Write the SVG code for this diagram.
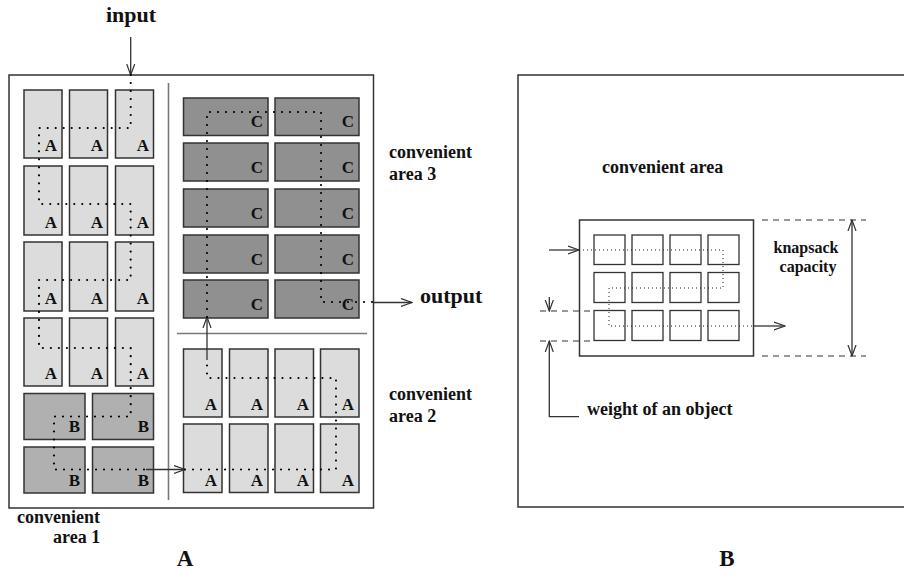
<svg xmlns="http://www.w3.org/2000/svg" width="904" height="574" viewBox="0 0 904 574">
<defs>
<marker id="v" viewBox="0 0 12 10" refX="11" refY="5" markerWidth="12" markerHeight="10" markerUnits="userSpaceOnUse" orient="auto-start-reverse">
<path d="M0,1 L11,5 L0,9" fill="none" stroke="#333" stroke-width="1.2"/>
</marker>
<style>
.t{font-family:"Liberation Serif","Times New Roman",serif;font-weight:bold;fill:#111}
.frame{fill:none;stroke:#333;stroke-width:1.5}
.ca{fill:#dcdcdc;stroke:#333;stroke-width:1.5}
.cb{fill:#b0b0b0;stroke:#333;stroke-width:1.5}
.cc{fill:#909090;stroke:#333;stroke-width:1.5}
.sq{fill:#fff;stroke:#333;stroke-width:1.3}
.lbl{font-size:17px;text-anchor:end}
.dotA{fill:none;stroke:#000;stroke-width:2.2;stroke-linecap:round;stroke-dasharray:0 8}
.dotB{fill:none;stroke:#222;stroke-width:1;stroke-dasharray:1 3}
.arr{fill:none;stroke:#333;stroke-width:1.3}
.dash{fill:none;stroke:#333;stroke-width:1.2;stroke-dasharray:6 5}
.sep{stroke:#777;stroke-width:1.6}
</style>
</defs>

<g id="frameA">
<rect class="frame" x="9" y="75" width="364.5" height="433"/>
<line class="sep" x1="168.5" y1="83" x2="168.5" y2="500"/>
<line class="sep" x1="177" y1="333.5" x2="367" y2="333.5"/>
</g>

<g id="area1">
<g id="a1r1">
<rect class="ca" x="24" y="90" width="38" height="68"/><text class="t lbl" x="57" y="151">A</text>
<rect class="ca" x="69.5" y="90" width="38" height="68"/><text class="t lbl" x="103" y="151">A</text>
<rect class="ca" x="115.5" y="90" width="38" height="68"/><text class="t lbl" x="149" y="151">A</text>
</g>
<g id="a1r2">
<rect class="ca" x="24" y="166" width="38" height="69"/><text class="t lbl" x="57" y="228">A</text>
<rect class="ca" x="69.5" y="166" width="38" height="69"/><text class="t lbl" x="103" y="228">A</text>
<rect class="ca" x="115.5" y="166" width="38" height="69"/><text class="t lbl" x="149" y="228">A</text>
</g>
<g id="a1r3">
<rect class="ca" x="24" y="242" width="38" height="69"/><text class="t lbl" x="57" y="304">A</text>
<rect class="ca" x="69.5" y="242" width="38" height="69"/><text class="t lbl" x="103" y="304">A</text>
<rect class="ca" x="115.5" y="242" width="38" height="69"/><text class="t lbl" x="149" y="304">A</text>
</g>
<g id="a1r4">
<rect class="ca" x="24" y="318" width="38" height="68"/><text class="t lbl" x="57" y="379">A</text>
<rect class="ca" x="69.5" y="318" width="38" height="68"/><text class="t lbl" x="103" y="379">A</text>
<rect class="ca" x="115.5" y="318" width="38" height="68"/><text class="t lbl" x="149" y="379">A</text>
</g>
<g id="b1">
<rect class="cb" x="24" y="393.5" width="61" height="46"/><text class="t lbl" x="80" y="432">B</text>
<rect class="cb" x="92.5" y="393.5" width="61" height="46"/><text class="t lbl" x="149" y="432">B</text>
<rect class="cb" x="24" y="447" width="61" height="46"/><text class="t lbl" x="80" y="486">B</text>
<rect class="cb" x="92.5" y="447" width="61" height="46"/><text class="t lbl" x="149" y="486">B</text>
</g>
</g>

<g id="area3">
<rect class="cc" x="183.5" y="98" width="84.5" height="37.5"/><text class="t lbl" x="263" y="127">C</text>
<rect class="cc" x="275" y="98" width="84" height="37.5"/><text class="t lbl" x="354" y="127">C</text>
<rect class="cc" x="183.5" y="143" width="84.5" height="38"/><text class="t lbl" x="263" y="172.5">C</text>
<rect class="cc" x="275" y="143" width="84" height="38"/><text class="t lbl" x="354" y="172.5">C</text>
<rect class="cc" x="183.5" y="189" width="84.5" height="38"/><text class="t lbl" x="263" y="218.5">C</text>
<rect class="cc" x="275" y="189" width="84" height="38"/><text class="t lbl" x="354" y="218.5">C</text>
<rect class="cc" x="183.5" y="235" width="84.5" height="38"/><text class="t lbl" x="263" y="264.5">C</text>
<rect class="cc" x="275" y="235" width="84" height="38"/><text class="t lbl" x="354" y="264.5">C</text>
<rect class="cc" x="183.5" y="280" width="84.5" height="38"/><text class="t lbl" x="263" y="309.5">C</text>
<rect class="cc" x="275" y="280" width="84" height="38"/><text class="t lbl" x="354" y="309.5">C</text>
</g>

<g id="area2">
<rect class="ca" x="183.5" y="349" width="38.5" height="68"/><text class="t lbl" x="217" y="410">A</text>
<rect class="ca" x="229.5" y="349" width="38.5" height="68"/><text class="t lbl" x="263" y="410">A</text>
<rect class="ca" x="275" y="349" width="38.5" height="68"/><text class="t lbl" x="309" y="410">A</text>
<rect class="ca" x="320.5" y="349" width="38.5" height="68"/><text class="t lbl" x="354" y="410">A</text>
<rect class="ca" x="183.5" y="424" width="38.5" height="68.5"/><text class="t lbl" x="217" y="486">A</text>
<rect class="ca" x="229.5" y="424" width="38.5" height="68.5"/><text class="t lbl" x="263" y="486">A</text>
<rect class="ca" x="275" y="424" width="38.5" height="68.5"/><text class="t lbl" x="309" y="486">A</text>
<rect class="ca" x="320.5" y="424" width="38.5" height="68.5"/><text class="t lbl" x="354" y="486">A</text>
</g>

<g id="frameB">
<rect class="frame" x="518" y="75" width="400" height="432"/>
<rect class="frame" x="579.5" y="220" width="174" height="136"/>
<g id="squares">
<rect class="sq" x="594" y="235" width="31" height="29.5"/>
<rect class="sq" x="632" y="235" width="31" height="29.5"/>
<rect class="sq" x="670" y="235" width="31" height="29.5"/>
<rect class="sq" x="708" y="235" width="31" height="29.5"/>
<rect class="sq" x="594" y="272.5" width="31" height="30"/>
<rect class="sq" x="632" y="272.5" width="31" height="30"/>
<rect class="sq" x="670" y="272.5" width="31" height="30"/>
<rect class="sq" x="708" y="272.5" width="31" height="30"/>
<rect class="sq" x="594" y="310.5" width="31" height="30"/>
<rect class="sq" x="632" y="310.5" width="31" height="30"/>
<rect class="sq" x="670" y="310.5" width="31" height="30"/>
<rect class="sq" x="708" y="310.5" width="31" height="30"/>
</g>
</g>

<g id="connectors">
<path class="arr" d="M130.7,37 V75" marker-end="url(#v)"/>
<path class="dotA" d="M130.7,75 V128 H39 V204 H130.7 V280 H39 V348 H130.7 V416.5 H54 V469.5 H146"/>
<path class="arr" d="M146,469.5 H185" marker-end="url(#v)"/>
<path class="dotA" d="M185,469.5 H336 V378 H207 V362"/>
<path class="arr" d="M207,360 V317" marker-end="url(#v)"/>
<path class="dotA" d="M207,317 V112 H321 V302 H374"/>
<path class="arr" d="M373,302.5 H412" marker-end="url(#v)"/>

<path class="arr" d="M549,250 H579" marker-end="url(#v)"/>
<path class="dotB" d="M579,250 H723 V288 H609 V326 H753"/>
<path class="arr" d="M753,326 H785" marker-end="url(#v)"/>
<path class="dash" d="M762,220 H866 M762,356 H866"/>
<path class="arr" d="M852,220 V356" marker-start="url(#v)" marker-end="url(#v)"/>
<path class="dash" d="M540,311 H594 M540,341 H594"/>
<path class="arr" d="M549.3,297 V311" marker-end="url(#v)"/>
<path class="arr" d="M579,416.7 H549.3 V341" marker-end="url(#v)"/>
</g>

<g id="labels">
<text class="t" x="131" y="22" font-size="22" text-anchor="middle">input</text>
<text class="t" x="420" y="303" font-size="22">output</text>
<text class="t" x="389" y="158" font-size="18">convenient</text>
<text class="t" x="389" y="180" font-size="18">area 3</text>
<text class="t" x="389" y="400" font-size="18">convenient</text>
<text class="t" x="389" y="422" font-size="18">area 2</text>
<text class="t" x="17" y="523" font-size="18">convenient</text>
<text class="t" x="53" y="543" font-size="18">area 1</text>
<text class="t" x="185" y="566" font-size="23" text-anchor="middle">A</text>
<text class="t" x="602" y="173" font-size="18">convenient area</text>
<text class="t" x="806" y="253" font-size="16" text-anchor="middle">knapsack</text>
<text class="t" x="808" y="271.5" font-size="16" text-anchor="middle">capacity</text>
<text class="t" x="587" y="415" font-size="18">weight of an object</text>
<text class="t" x="727" y="566" font-size="23" text-anchor="middle">B</text>
</g>
</svg>
